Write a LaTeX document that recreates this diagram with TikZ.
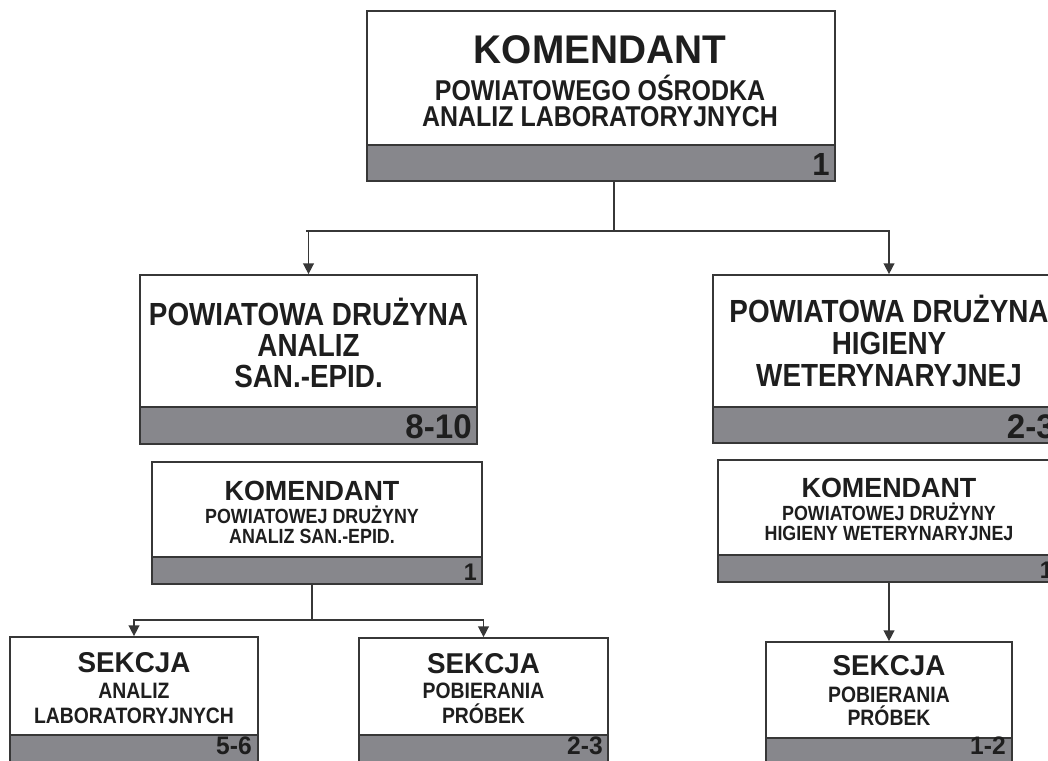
\documentclass[tikz,border=0pt]{standalone}
\usepackage{fontspec}
\setmainfont{Liberation Sans}[FakeStretch=0.87]
\newfontfamily\widefam{Liberation Sans}[FakeStretch=0.97]
\usetikzlibrary{fit,arrows.meta}
\definecolor{edge}{RGB}{55,55,55}
\definecolor{barfill}{RGB}{135,135,140}
\definecolor{ink}{RGB}{30,30,30}
\tikzset{
  box/.style={draw=edge, line width=1.3pt, fill=white, inner sep=0pt},
  bar/.style={draw=edge, line width=1.3pt, fill=barfill, inner sep=0pt},
  txt/.style={anchor=base, text=ink, inner sep=0pt, font=\bfseries\fontsize{#1}{#1}\selectfont},
  wtxt/.style={anchor=base, text=ink, inner sep=0pt, font=\widefam\bfseries\fontsize{#1}{#1}\selectfont},
  num/.style={anchor=base east, text=ink, inner sep=0pt, font=\widefam\bfseries\fontsize{#1}{#1}\selectfont},
  conn/.style={draw=edge, line width=1.1pt},
  thinconn/.style={draw=edge, line width=0.6pt},
  arr/.style={conn, -{Triangle[length=8pt,width=8pt]}}
}
\begin{document}
\begin{tikzpicture}[x=0.75pt,y=-0.75pt]
\useasboundingbox (0,0) rectangle (1048,760);
\clip (0,0) rectangle (1048,760);
\fill[white] (0,0) rectangle (1048,760);

% top box
\node[box, fit={(367,11) (835,181)}] (top) {};
\node[bar, fit={(367,145) (835,181)}] (topbar) {};
\node[wtxt=30] (t1) at (600,63) {KOMENDANT};
\node[txt=21.5] (t2) at (600,100) {POWIATOWEGO OŚRODKA};
\node[txt=21.5] (t3) at (600,126) {ANALIZ LABORATORYJNYCH};
\node[num=24] (tn) at (830,175) {1};

% middle left
\node[box, fit={(140,275) (477,444)}] (pdl) {};
\node[bar, fit={(140,407) (477,444)}] (pdlbar) {};
\node[txt=24] (l1) at (308.5,325) {POWIATOWA DRUŻYNA};
\node[txt=24] (l2) at (308.5,356) {ANALIZ};
\node[txt=24] (l3) at (308.5,387) {SAN.-EPID.};
\node[num=25.6] (ln) at (472,438) {8-10};

% middle right
\node[box, fit={(713,275) (1065,443)}] (pdr) {};
\node[bar, fit={(713,407) (1065,443)}] (pdrbar) {};
\node[txt=24] (r1) at (889,322) {POWIATOWA DRUŻYNA};
\node[txt=24] (r2) at (889,354) {HIGIENY};
\node[txt=24] (r3) at (889,386) {WETERYNARYJNEJ};
\node[num=25.6] (rn) at (1055,438) {2-3};

% komendant left
\node[box, fit={(152,462) (482,584)}] (kl) {};
\node[bar, fit={(152,557) (482,584)}] (klbar) {};
\node[wtxt=20.8] (kl1) at (312,500) {KOMENDANT};
\node[txt=15.4] (kl2) at (312,523) {POWIATOWEJ DRUŻYNY};
\node[txt=15.4] (kl3) at (312,543) {ANALIZ SAN.-EPID.};
\node[num=18] (kln) at (477,580) {1};

% komendant right
\node[box, fit={(718,460) (1060,582)}] (kr) {};
\node[bar, fit={(718,555) (1060,582)}] (krbar) {};
\node[wtxt=20.8] (kr1) at (889,497) {KOMENDANT};
\node[txt=15.4] (kr2) at (889,520) {POWIATOWEJ DRUŻYNY};
\node[txt=15.4] (kr3) at (889,540) {HIGIENY WETERYNARYJNEJ};
\node[num=18] (krn) at (1053,578) {1};

% section analiz
\node[box, fit={(10,637) (258,775)}] (sa) {};
\node[bar, fit={(10,735) (258,775)}] (sabar) {};
\node[wtxt=21.5] (sa1) at (134,672) {SEKCJA};
\node[txt=16.7] (sa2) at (134,698) {ANALIZ};
\node[txt=16.7] (sa3) at (134,723) {LABORATORYJNYCH};
\node[num=19] (san) at (252,754) {5-6};

% section pobierania (left)
\node[box, fit={(359,638) (608,775)}] (sp) {};
\node[bar, fit={(359,735) (608,775)}] (spbar) {};
\node[wtxt=21.5] (sp1) at (483.5,673) {SEKCJA};
\node[txt=16.7] (sp2) at (483.5,698) {POBIERANIA};
\node[txt=16.7] (sp3) at (483.5,723) {PRÓBEK};
\node[num=19] (spn) at (603,754) {2-3};

% section pobierania (right)
\node[box, fit={(766,642) (1012,775)}] (sr) {};
\node[bar, fit={(766,738) (1012,775)}] (srbar) {};
\node[wtxt=21.5] (sr1) at (889,675) {SEKCJA};
\node[txt=16.7] (sr2) at (889,702) {POBIERANIA};
\node[txt=16.7] (sr3) at (889,725) {PRÓBEK};
\node[num=19] (srn) at (1006,754) {1-2};

% connectors
\coordinate (j1) at (614,231);
\draw[conn] (j1 |- top.south) -- (j1);
\draw[conn] (306,231) -- (890,231);
\draw[arr] (j1) -| (pdl.north);
\draw[arr] (j1) -| (pdr.north);

\coordinate (j2) at (312,620);
\draw[conn] (j2 |- kl.south) -- (j2);
\draw[thinconn] (sa.north |- j2) -- (sp.north |- j2);
\draw[arr] (j2) -| (sa.north);
\draw[arr] (j2) -| (sp.north);

\draw[arr] (kr.south -| sr.north) -- (sr.north);
\end{tikzpicture}
\end{document}
